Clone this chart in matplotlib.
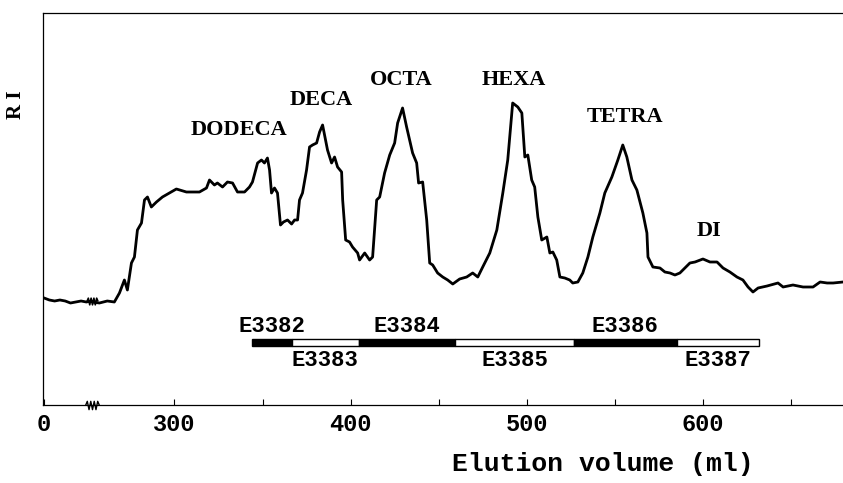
import numpy as np
import matplotlib
matplotlib.use("Agg")
import matplotlib.pyplot as plt
from matplotlib.path import Path

# RI trace before the axis cut (ml, arbitrary RI units)
vol_start = [0, 3, 6, 9, 12, 15, 18, 21, 24, 27]
ri_start = [107, 105, 104, 105, 104, 102, 103, 104, 103, 104]

# RI trace after the axis cut
vol = [253.4, 257.4, 261.9, 265.9, 268.8, 271.6, 273.3, 275.6, 277.3, 279.0,
       281.3, 283.0, 284.7, 286.9, 289.8, 293.2, 297.2, 301.1, 306.8, 314.2,
       318.2, 319.9, 322.7, 324.4, 327.3, 330.1, 333.0, 335.8, 339.8, 342.6,
       344.3, 347.2, 349.4, 351.1, 352.8, 354.0, 355.1, 356.8, 358.5, 360.2,
       361.9, 364.2, 366.5, 368.2, 369.9, 371.0, 372.7, 375.0, 376.7, 378.4,
       380.7, 382.4, 384.1, 385.2, 386.9, 389.2, 390.9, 392.6, 394.9, 395.5,
       397.2, 399.4, 401.1, 404.0, 405.1, 408.0, 410.8, 412.5, 414.8, 416.5,
       419.3, 422.2, 425.0, 426.7, 429.5, 431.8, 433.5, 435.2, 437.5, 438.6,
       440.9, 443.2, 444.9, 446.6, 449.4, 452.3, 455.1, 458.0, 461.9, 465.9,
       469.3, 472.2, 475.0, 479.0, 483.0, 486.4, 489.2, 492.0, 494.9, 497.2,
       498.9, 500.6, 502.8, 504.5, 506.3, 508.5, 511.4, 513.1, 514.8, 517.0,
       518.8, 521.6, 524.4, 526.1, 529.0, 531.8, 534.7, 537.5, 541.5, 544.3,
       548.3, 551.7, 554.5, 556.8, 559.7, 562.5, 565.9, 568.2, 568.8, 571.6,
       575.6, 578.4, 581.3, 584.1, 586.9, 588.6, 592.6, 595.5, 600.0, 604.0,
       608.0, 611.4, 615.3, 619.3, 622.7, 625.6, 628.4, 631.3, 636.4, 642.6,
       645.5, 651.1, 656.8, 662.5, 666.5, 670.5, 673.9, 679.5]
ri = [103, 102, 104, 103, 112, 125, 115, 142, 148, 175,
      182, 205, 208, 198, 203, 208, 212, 216, 213, 213,
      217, 225, 220, 222, 218, 223, 222, 213, 213, 218,
      223, 242, 245, 242, 247, 235, 212, 217, 212, 180,
      183, 185, 181, 185, 185, 205, 212, 235, 258, 260,
      262, 273, 280, 270, 255, 242, 248, 238, 233, 205,
      165, 163, 158, 152, 145, 152, 145, 148, 205, 208,
      232, 250, 262, 282, 297, 278, 265, 252, 242, 222,
      223, 185, 142, 140, 132, 128, 125, 121, 126, 128,
      132, 128, 138, 152, 175, 212, 245, 302, 298, 292,
      248, 250, 225, 218, 188, 165, 168, 152, 153, 145,
      128, 127, 125, 122, 123, 132, 148, 168, 192, 212,
      228, 245, 260, 248, 225, 215, 192, 172, 148, 138,
      137, 133, 132, 130, 132, 135, 142, 143, 146, 143,
      143, 137, 133, 128, 125, 118, 113, 117, 119, 122,
      118, 120, 118, 118, 123, 122, 122, 123]

peak_names = ["DODECA", "DECA", "OCTA", "HEXA", "TETRA", "DI"]
peak_vol = [336.9, 383.2, 428.7, 492.6, 555.7, 603.4]
peak_ri = [275, 305, 325, 325, 288, 174]

fractions = ["E3382", "E3383", "E3384", "E3385", "E3386", "E3387"]
frac_edges = [344, 366.5, 404.5, 459, 527, 585, 632]

# volumes between these two are left out of the x axis
cut_lo, cut_hi = 27, 253
gap = cut_hi - cut_lo


def fwd(v):
    v = np.asarray(v, float)
    return np.where(v <= cut_lo, v, np.where(v >= cut_hi, v - gap, cut_lo))


def inv(u):
    u = np.asarray(u, float)
    return np.where(u <= cut_lo, u, u + gap)


mono = dict(family="Liberation Mono", weight="bold")
serif = dict(family="Liberation Serif", weight="bold")

fig = plt.figure(figsize=(8.43, 4.83), dpi=100)
ax = fig.add_axes([43 / 843, 78 / 483, 800 / 843, 392 / 483])
ax.set_xscale("function", functions=(fwd, inv))

ax.plot(vol_start + vol, ri_start + ri, color="k", lw=2.0, solid_joinstyle="round")

# zig-zag marks where the axis and the trace are cut
zz = Path([(-1, 0), (-0.75, 0.6), (-0.5, -0.6), (-0.25, 0.6), (0, -0.6),
           (0.25, 0.6), (0.5, -0.6), (0.75, 0.6), (1, 0)])
ax.plot([cut_lo + 1], [0], marker=zz, ms=10, mfc="none", mec="k", mew=1.0,
        clip_on=False, zorder=5)
ax.plot([cut_lo], [ri_start[-1]], marker=zz, ms=8, mfc="none", mec="k",
        mew=1.2, zorder=5)

# fraction bar, alternating black / white
for i, name in enumerate(fractions):
    lo, hi = frac_edges[i], frac_edges[i + 1]
    ax.barh(63, hi - lo, left=lo, height=7,
            color="k" if i % 2 == 0 else "white", edgecolor="k", lw=1.0)
    ty = 78 if i % 2 == 0 else 45
    ax.text((lo + hi) / 2, ty, name, ha="center", va="center", fontsize=16, **mono)

for name, x, y in zip(peak_names, peak_vol, peak_ri):
    ax.text(x, y, name, ha="center", va="center", fontsize=16, **serif)

ax.set_xlim(-0.6, 679.5)
ax.set_ylim(0, 392)
ax.set_xticks([0, 300, 400, 500, 600])
ax.set_xticks([350, 450, 550, 650], minor=True)
ax.set_yticks([])
ax.tick_params(axis="x", which="both", direction="in", length=4, width=0.8, pad=6)
for lab in ax.get_xticklabels():
    lab.set_fontsize(17)
    lab.set_fontfamily("Liberation Mono")
    lab.set_fontweight("bold")

ax.spines["right"].set_visible(False)
for s in ["left", "top", "bottom"]:
    ax.spines[s].set_linewidth(0.9)

ax.set_xlabel("Elution volume (ml)", fontsize=19, **mono)
ax.xaxis.label.set_va("center")
ax.xaxis.set_label_coords(0.70, -0.15)
ax.set_ylabel("R I", fontsize=15, **serif)
ax.yaxis.label.set_va("center")
ax.yaxis.set_label_coords(-0.034, 0.765)

fig.savefig("out.png", dpi=100)
